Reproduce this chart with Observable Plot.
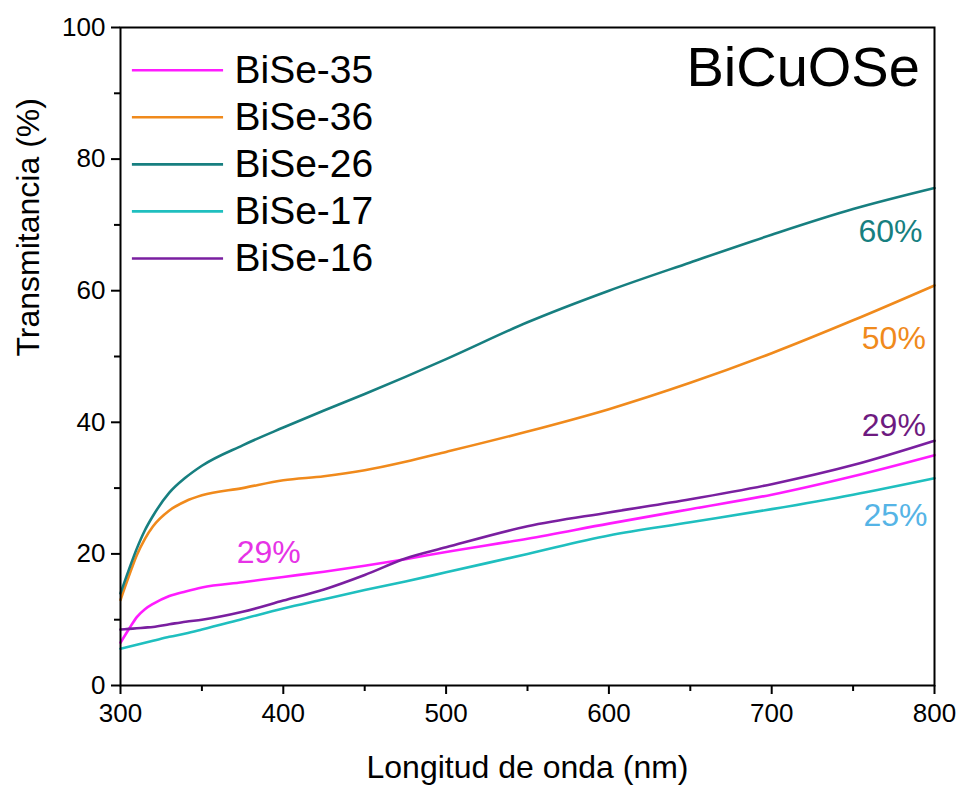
<!DOCTYPE html>
<html>
<head>
<meta charset="utf-8">
<script src="https://cdn.jsdelivr.net/npm/d3@7"></script>
<script src="https://cdn.jsdelivr.net/npm/@observablehq/plot@0.6"></script>
<style>
  html, body { margin: 0; padding: 0; background: #fff; }
  #chart svg { display: block; }
</style>
</head>
<body>
<div id="chart"></div>
<script>
const wavelength = [300,305,310,315,320,330,340,350,375,400,425,450,475,500,550,600,650,700,750,800];
const bise35 = [6.5,8.5,10.4,11.6,12.4,13.6,14.3,14.9,15.7,16.5,17.3,18.2,19.2,20.3,22.3,24.6,26.8,29.0,31.8,35.0];
const bise36 = [13.0,16.5,19.8,22.3,24.2,26.6,28.0,28.9,30.0,31.2,31.8,32.7,34.0,35.5,38.6,42.0,46.0,50.5,55.5,60.8];
const bise26 = [14.0,17.5,20.8,23.6,25.8,29.3,31.6,33.4,36.5,39.2,41.8,44.3,46.9,49.6,55.2,60.0,64.3,68.5,72.4,75.6];
const bise17 = [5.6,5.9,6.2,6.5,6.8,7.4,7.9,8.5,10.1,11.7,13.1,14.5,15.8,17.2,20.0,22.8,24.8,26.8,29.0,31.5];
const bise16 = [8.5,8.6,8.7,8.8,8.9,9.3,9.7,10.0,11.2,12.9,14.6,16.8,19.3,21.0,24.2,26.3,28.3,30.6,33.5,37.2];

const seriesNames = ["BiSe-35","BiSe-36","BiSe-26","BiSe-17","BiSe-16"];
const seriesValues = [bise35, bise36, bise26, bise17, bise16];
const seriesColors = ["#ff1cff","#f08a1c","#177f80","#1fbfbf","#7a1fa0"];

const xTicks = [300,400,500,600,700,800];
const xMinor = [350,450,550,650,750];
const yTicks = [0,20,40,60,80,100];
const yMinor = [10,30,50,70,90];

const annoText = ["60%","50%","29%","25%","29%"];
const annoX = [773,775,775,776,391];
const annoY = [69.0,52.7,39.5,25.8,20.2];
const annoColor = ["#177f80","#f08a1c","#6e1a80","#55b4e6","#e633e6"];

const legendRowY = seriesNames.map((_, i) => 93.5 - i * 7.15);

const table = seriesNames.flatMap((name, i) =>
  wavelength.map((w, j) => ({series: name, x: w, y: seriesValues[i][j]})));
const legend = seriesNames.map((name, i) => ({name, y: legendRowY[i], color: seriesColors[i]}));
const annos = annoText.map((t, i) => ({t, x: annoX[i], y: annoY[i], c: annoColor[i]}));
const xLabels = xTicks.map(v => ({v, t: String(v)}));
const yLabels = yTicks.map(v => ({v, t: String(v)}));

const font = "'Liberation Sans', Arial, sans-serif";

const chart = Plot.plot({
  width: 958,
  height: 785,
  marginLeft: 120,
  marginRight: 24,
  marginTop: 27,
  marginBottom: 100,
  style: {fontFamily: font, color: "#000", background: "#fff", overflow: "visible"},
  x: {domain: [300, 800]},
  y: {domain: [0, 100]},
  color: {domain: seriesNames, range: seriesColors},
  marks: [
    Plot.line(table, {x: "x", y: "y", z: "series", stroke: "series", strokeWidth: 2.6, curve: "monotone-x"}),
    Plot.frame({stroke: "#000", strokeWidth: 2}),
    Plot.axisX({ticks: xTicks, tickSize: 9, strokeWidth: 2, text: null, label: null}),
    Plot.axisX({ticks: xMinor, tickSize: 6, strokeWidth: 2, text: null, label: null}),
    Plot.axisY({ticks: yTicks, tickSize: 9, strokeWidth: 2, text: null, label: null}),
    Plot.axisY({ticks: yMinor, tickSize: 6, strokeWidth: 2, text: null, label: null}),
    Plot.text(xLabels, {x: "v", text: "t", frameAnchor: "bottom", dy: 36, fontSize: 26, fill: "#000"}),
    Plot.text(yLabels, {y: "v", text: "t", frameAnchor: "left", dx: -15, textAnchor: "end", fontSize: 26, fill: "#000"}),
    Plot.text(["Longitud de onda (nm)"], {frameAnchor: "bottom", dy: 92, fontSize: 32, fill: "#000"}),
    Plot.text(["Transmitancia (%)"], {frameAnchor: "left", dx: -92, rotate: -90, fontSize: 32, fill: "#000"}),
    Plot.link(legend, {x1: 307, x2: 363, y1: "y", y2: "y", stroke: "color", strokeWidth: 2.6}),
    Plot.text(legend, {x: 370, y: "y", text: "name", textAnchor: "start", fontSize: 39, fill: "#000"}),
    Plot.text(["BiCuOSe"], {x: 791, y: 93.8, textAnchor: "end", fontSize: 56, fill: "#000"}),
    Plot.text(annos, {x: "x", y: "y", text: "t", fill: "c", fontSize: 32})
  ]
});
document.getElementById("chart").appendChild(chart);
</script>
</body>
</html>
